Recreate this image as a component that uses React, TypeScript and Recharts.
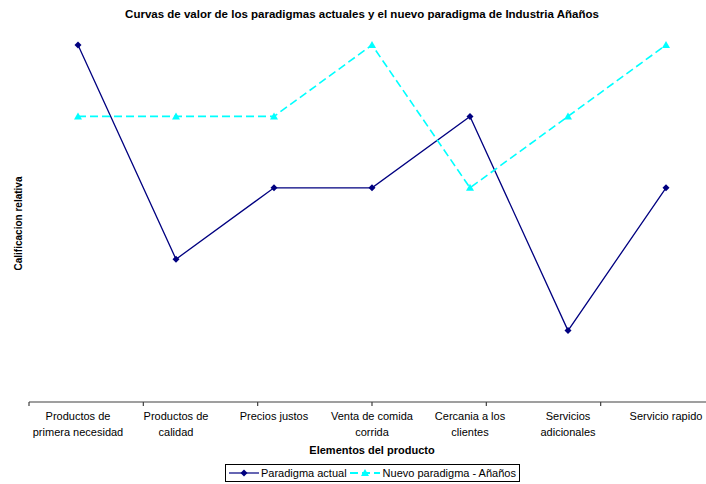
import React from 'react'
import {
  ComposedChart,
  Line,
  XAxis,
  YAxis,
  Legend,
} from 'recharts'

const categories = [
  'Productos de\nprimera necesidad',
  'Productos de\ncalidad',
  'Precios justos',
  'Venta de comida\ncorrida',
  'Cercania a los\nclientes',
  'Servicios\nadicionales',
  'Servicio rapido',
]
const paradigmaActual = [5, 2, 3, 3, 4, 1, 3]
const nuevoParadigma = [4, 4, 4, 5, 3, 4, 5]
const boundaryTicks = [0, 1, 2, 3, 4, 5, 6, 7]

const NAVY = '#000080'
const CYAN = '#00FFFF'
const FONT = '"Liberation Sans", Arial, sans-serif'

const data = categories.map((c, i) => ({
  name: c,
  actual: paradigmaActual[i],
  nuevo: nuevoParadigma[i],
}))

// eslint-disable-next-line @typescript-eslint/no-explicit-any
function CategoryTick({ x, y, payload }: any) {
  const lines = String(payload.value).split('\n')
  return (
    <text x={x} y={y} textAnchor="middle" fontSize={11} fontFamily={FONT} fill="#000">
      {lines.map((l, i) => (
        <tspan key={i} x={x} dy={i === 0 ? 9 : 16}>
          {l}
        </tspan>
      ))}
    </text>
  )
}

function NoLabel() {
  return <g />
}

// eslint-disable-next-line @typescript-eslint/no-explicit-any
function Diamond({ cx, cy }: any) {
  if (cx == null || cy == null) return null
  return <path d={`M${cx},${cy - 3.5}L${cx + 3.5},${cy}L${cx},${cy + 3.5}L${cx - 3.5},${cy}Z`} fill={NAVY} />
}

// eslint-disable-next-line @typescript-eslint/no-explicit-any
function Triangle({ cx, cy }: any) {
  if (cx == null || cy == null) return null
  return <path d={`M${cx},${cy - 4}L${cx + 4},${cy + 3}L${cx - 4},${cy + 3}Z`} fill={CYAN} />
}

function LegendBox() {
  return (
    <div
      style={{
        border: '1px solid #000',
        background: '#fff',
        display: 'flex',
        alignItems: 'center',
        padding: '0 3px',
        height: 16,
        fontFamily: FONT,
        fontSize: 11,
        whiteSpace: 'nowrap',
      }}
    >
      <svg width={30} height={10} style={{ marginRight: 2 }}>
        <line x1={0} y1={5} x2={30} y2={5} stroke={NAVY} strokeWidth={1.2} />
        <path d="M15,1.5L18.5,5L15,8.5L11.5,5Z" fill={NAVY} />
      </svg>
      <span style={{ marginRight: 3 }}>Paradigma actual</span>
      <svg width={30} height={10} style={{ marginRight: 3 }}>
        <line x1={0} y1={5} x2={30} y2={5} stroke={CYAN} strokeWidth={2} strokeDasharray="8 4" />
        <path d="M15,1L19,8L11,8Z" fill={CYAN} />
      </svg>
      <span>Nuevo paradigma - Añaños</span>
    </div>
  )
}

export default function App() {
  return (
    <div
      style={{
        position: 'absolute',
        left: 0,
        top: 0,
        width: 706,
        height: 484,
        overflow: 'hidden',
        background: '#fff',
      }}
    >
      <div
        style={{
          position: 'absolute',
          top: 8,
          left: 0,
          width: 724,
          textAlign: 'center',
          fontFamily: FONT,
          fontWeight: 'bold',
          fontSize: 11.5,
        }}
      >
        Curvas de valor de los paradigmas actuales y el nuevo paradigma de Industria Añaños
      </div>
      <div
        style={{
          position: 'absolute',
          top: 444,
          left: 0,
          width: 744,
          textAlign: 'center',
          fontFamily: FONT,
          fontWeight: 'bold',
          fontSize: 11,
        }}
      >
        Elementos del producto
      </div>
      <div style={{ position: 'absolute', left: 0, top: 0 }}>
        <ComposedChart
          width={730}
          height={484}
          data={data}
          margin={{ top: 45, right: 15, bottom: 32, left: 0 }}
        >
          <XAxis
            xAxisId="a_edges"
            type="number"
            domain={[0, 7]}
            ticks={boundaryTicks}
            tick={<NoLabel />}
            tickSize={4}
            height={1}
            axisLine={{ stroke: '#404040', strokeWidth: 1.2 }}
            tickLine={{ stroke: '#404040', strokeWidth: 1.2 }}
          />
          <XAxis
            xAxisId="b_cat"
            dataKey="name"
            interval={0}
            padding={{ left: 49, right: 49 }}
            axisLine={false}
            tickLine={false}
            tick={<CategoryTick />}
            height={49}
          />
          <YAxis
            domain={[0, 5]}
            width={29}
            axisLine={false}
            tickLine={false}
            tick={false}
            label={{
              value: 'Calificacion relativa',
              angle: -90,
              position: 'insideLeft',
              offset: 18,
              style: { textAnchor: 'middle', fontFamily: FONT, fontWeight: 'bold', fontSize: 10, fill: '#000' },
            }}
          />
          <Legend
            layout="vertical"
            align="center"
            verticalAlign="middle"
            content={<LegendBox />}
            wrapperStyle={{ position: 'absolute', left: 225, top: 464, width: 'auto' }}
          />
          <Line
            xAxisId="b_cat"
            dataKey="actual"
            name="Paradigma actual"
            stroke={NAVY}
            strokeWidth={1.3}
            dot={<Diamond />}
            activeDot={false}
            isAnimationActive={false}
          />
          <Line
            xAxisId="b_cat"
            dataKey="nuevo"
            name="Nuevo paradigma - Añaños"
            stroke={CYAN}
            strokeWidth={1.6}
            strokeDasharray="8 4"
            dot={<Triangle />}
            activeDot={false}
            isAnimationActive={false}
          />
        </ComposedChart>
      </div>
    </div>
  )
}
